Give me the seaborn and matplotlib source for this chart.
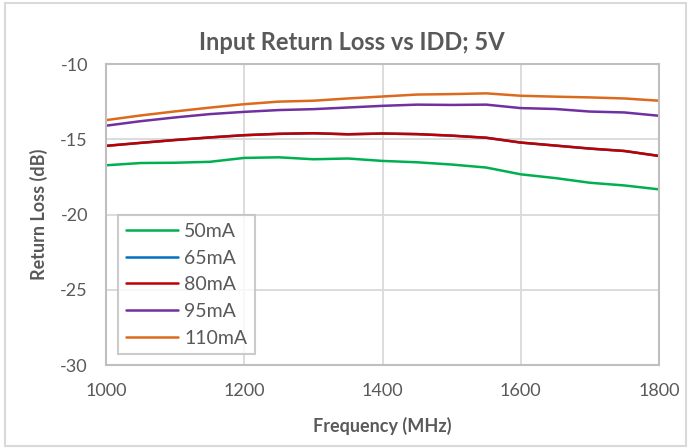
import numpy as np
import pandas as pd
import seaborn as sns
import matplotlib.pyplot as plt
from matplotlib.patches import Rectangle

# frequency points (MHz) and return loss (dB)
freq = [1000, 1050, 1100, 1150, 1200, 1250, 1300, 1350, 1400,
        1450, 1500, 1550, 1600, 1650, 1700, 1750, 1800]
rl_50 = [-16.73, -16.58, -16.56, -16.50, -16.24, -16.20, -16.33, -16.28, -16.44,
         -16.53, -16.68, -16.88, -17.33, -17.58, -17.89, -18.07, -18.33]
# 65mA trace sits under the 80mA trace (not visible in the original)
rl_65 = [-15.44, -15.24, -15.05, -14.88, -14.73, -14.64, -14.60, -14.67, -14.62,
         -14.66, -14.76, -14.90, -15.22, -15.42, -15.62, -15.78, -16.11]
rl_80 = [-15.44, -15.24, -15.05, -14.88, -14.73, -14.64, -14.60, -14.67, -14.62,
         -14.66, -14.76, -14.90, -15.22, -15.42, -15.62, -15.78, -16.11]
rl_95 = [-14.10, -13.80, -13.55, -13.33, -13.18, -13.06, -13.00, -12.89, -12.78,
         -12.70, -12.72, -12.70, -12.93, -12.99, -13.16, -13.22, -13.44]
rl_110 = [-13.73, -13.42, -13.15, -12.90, -12.67, -12.50, -12.44, -12.29, -12.16,
          -12.03, -12.00, -11.95, -12.11, -12.17, -12.22, -12.29, -12.44]

series = ['50mA', '65mA', '80mA', '95mA', '110mA']
colors = ['#00b050', '#0070c0', '#c00000', '#7030a0', '#dc6a1e']
xticks = [1000, 1200, 1400, 1600, 1800]
yticks = [-10, -15, -20, -25, -30]

frames = []
for name, vals in zip(series, [rl_50, rl_65, rl_80, rl_95, rl_110]):
    frames.append(pd.DataFrame({'Frequency': freq, 'RL': vals, 'IDD': name}))
df = pd.concat(frames, ignore_index=True)

sns.set_theme(style='white')
plt.rcParams['font.family'] = ['Lato', 'DejaVu Sans']
plt.rcParams['axes.unicode_minus'] = False
grey = '#595959'

fig = plt.figure(figsize=(6.91, 4.48), dpi=100)
ax = fig.add_axes([106 / 691, 1 - 365 / 448, 553 / 691, 301 / 448])

sns.lineplot(data=df, x='Frequency', y='RL', hue='IDD', hue_order=series,
             palette=dict(zip(series, colors)), linewidth=1.8, ax=ax)

ax.set_xlim(1000, 1800)
ax.set_ylim(-30, -10)
ax.set_xticks(xticks)
ax.set_yticks(yticks)
ax.grid(True, color='#d9d9d9', linewidth=1.3)
ax.set_axisbelow(True)
for s in ax.spines.values():
    s.set_color('#bfbfbf')
    s.set_linewidth(1.5)
ax.tick_params(length=0, labelsize=13, labelcolor=grey)
ax.tick_params(axis='y', pad=13)
ax.tick_params(axis='x', pad=13)

ax.set_xlabel('Frequency (MHz)', fontsize=13, fontweight='bold', color=grey, labelpad=13)
ax.set_ylabel('Return Loss (dB)', fontsize=13, fontweight='bold', color=grey, labelpad=9)
fig.text(352 / 691, 1 - 42 / 448, 'Input Return Loss vs IDD; 5V', fontsize=17,
         fontweight='bold', color=grey, ha='center', va='center')

handles, labels = ax.get_legend_handles_labels()
leg = ax.legend(handles, labels, loc='upper left', bbox_to_anchor=(12 / 553, 150 / 301),
                fontsize=14, frameon=True, fancybox=False, handlelength=2.7,
                labelspacing=0.5, borderpad=0.4, handletextpad=0.3,
                borderaxespad=0)
leg.get_frame().set_edgecolor('#bfbfbf')
leg.get_frame().set_linewidth(1.5)
for t in leg.get_texts():
    t.set_color(grey)

fig.patches.append(Rectangle((5 / 691, 2 / 448), 681 / 691, 443 / 448,
                             transform=fig.transFigure, fill=False,
                             edgecolor='#d9d9d9', linewidth=1.5))

fig.savefig('out.png', dpi=100)
